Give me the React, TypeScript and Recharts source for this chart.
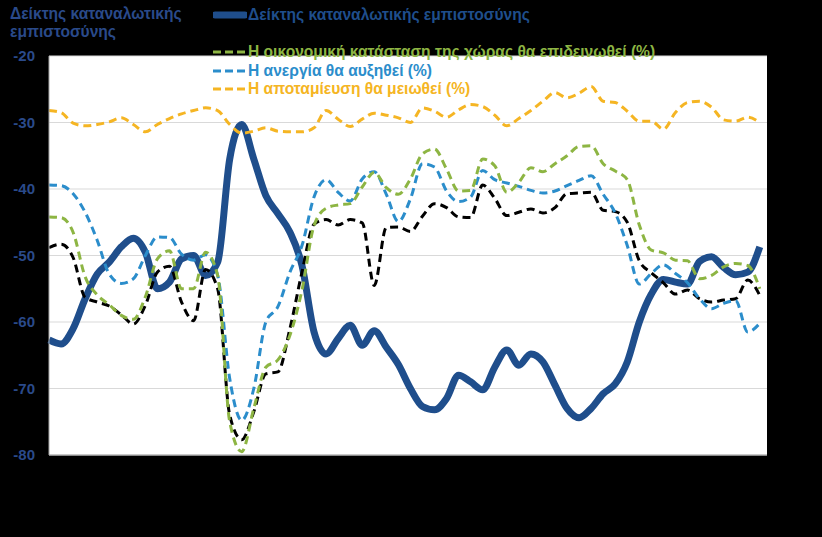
import React from 'react';
import { LineChart, Line, XAxis, YAxis, CartesianGrid } from 'recharts';

// monthly readings
const confidence = [
  -62.7, -63.3, -61, -56.5, -52.8, -51, -48.7, -47.4, -49.5, -55,
  -54, -50.5, -50, -53, -51, -35.5, -30.3, -35.5, -41, -43.7,
  -46.5, -51.5, -61.5, -64.8, -62.5, -60.5, -63.5, -61.3, -63.8, -66.4,
  -70, -72.7, -73.2, -71.5, -68, -69, -70.2, -66.8, -64.2, -66.5,
  -64.8, -66, -69.5, -73, -74.4, -73, -70.8, -69.3, -66, -60,
  -55.8, -53.6, -54, -54.3, -50.9, -50.2, -51.8, -52.9, -52.5, -48.7,
];

const economy = [
  -44.2, -44.3, -46.5, -53.2, -55.9, -57.4, -59, -59.6, -56.2, -50.5,
  -49.3, -55, -55, -49.5, -53, -75, -79.5, -73, -66.8, -65.7,
  -62, -55.2, -45.5, -42.9, -42.4, -42.2, -39.7, -37.5, -39.8, -40.8,
  -38.5, -34.7, -34, -37, -40.3, -40.2, -35.5, -36.5, -40.5, -39,
  -36.8, -37.4, -36.2, -35, -33.6, -33.5, -36.2, -37.3, -38.6, -45.4,
  -49.2, -49.6, -50.7, -50.8, -53.5, -53, -51.7, -51.2, -51.5, -55,
];

const unemployment = [
  -39.4, -39.5, -40.7, -43.5, -47.7, -52.8, -54.2, -53.5, -50, -47.2,
  -47.3, -49.8, -50.7, -49.9, -53, -68.5, -74.8, -70, -60, -57.7,
  -52.5, -48.5, -41.2, -38.6, -40.5, -41.8, -38.5, -37.4, -40.8, -44.9,
  -41.5, -36.2, -36.7, -40.3, -41.9, -41.2, -37.2, -38.6, -39.1, -39.6,
  -40.2, -40.6, -40.3, -39.5, -38.7, -38, -40.8, -43.6, -48.5, -54.3,
  -52.7, -51.4, -52.7, -54.1, -56.5, -58, -57.2, -56.8, -61.5, -60.2,
];

const savings = [
  -28.2, -28.5, -30.1, -30.5, -30.3, -29.9, -29.3, -30.3, -31.4, -30.3,
  -29.4, -28.7, -28.2, -27.8, -28.2, -30.3, -31.6, -31.3, -30.8, -31.3,
  -31.4, -31.4, -30.8, -28.2, -29.5, -30.6, -29.5, -28.6, -28.9, -29.3,
  -30, -27.8, -28.3, -29.2, -28.1, -27.3, -27.6, -28.9, -30.5, -29.4,
  -28.2, -26.8, -25.5, -26.3, -25.6, -24.6, -26.8, -27, -28.3, -29.8,
  -29.8, -31, -28.5, -27, -26.8, -27.7, -29.6, -29.8, -29.2, -30,
];

// unlabelled black series
const household = [
  -48.8, -48.3, -50.3, -56.3, -57, -57.6, -58.9, -60.3, -57.5, -52.5,
  -51.6, -57, -59.8, -52.1, -55, -74, -77.7, -73.5, -67.8, -67.5,
  -61, -52.5, -45.3, -44.6, -45.4, -44.6, -45.1, -54.5, -45.8, -45.7,
  -46.4, -44.1, -42.2, -42.8, -44.2, -44.3, -39.4, -41.4, -44, -43.5,
  -43, -43.6, -42.8, -40.7, -40.6, -40.5, -43.2, -43.4, -45, -50.8,
  -52.6, -54.1, -55.8, -55.2, -56.5, -57, -56.7, -56.5, -53.7, -56,
];

const yTicks = [-80, -70, -60, -50, -40, -30, -20];

const seriesNames = {
  confidence: 'Δείκτης καταναλωτικής εμπιστοσύνης',
  economy: 'Η οικονομική κατάσταση της χώρας θα επιδεινωθεί (%)',
  unemployment: 'Η ανεργία θα αυξηθεί (%)',
  savings: 'Η αποταμίευση θα μειωθεί (%)',
};

const data = confidence.map((v, i) => ({
  i,
  confidence: v,
  economy: economy[i],
  unemployment: unemployment[i],
  savings: savings[i],
  household: household[i],
}));

const NAVY = '#1F4E8C';
const GREEN = '#8DB543';
const BLUE = '#2B8DCB';
const ORANGE = '#F5B523';
const LABEL = '#2A4A8A';

const font = '"Liberation Sans", Arial, sans-serif';

const LegendRow = ({ top, color, text, thick }: any) => (
  <div style={{ position: 'absolute', left: 213, top, display: 'flex', alignItems: 'center', height: 18 }}>
    <svg width={34} height={10} style={{ marginRight: 1 }}>
      {thick ? (
        <line x1={2} y1={5} x2={32} y2={5} stroke={color} strokeWidth={7} strokeLinecap="round" />
      ) : (
        <line x1={0} y1={5} x2={34} y2={5} stroke={color} strokeWidth={3} strokeDasharray="8 4" />
      )}
    </svg>
    <span style={{ color: thick ? NAVY : color, fontSize: 15.6, fontWeight: 'bold', whiteSpace: 'nowrap' }}>
      {text}
    </span>
  </div>
);

export default function App() {
  return (
    <div style={{ position: 'absolute', left: 0, top: 0, width: 822, height: 537, background: '#000', fontFamily: font, overflow: 'hidden' }}>
      <LineChart width={822} height={537} data={data} margin={{ top: 56, right: 55, bottom: 81, left: 0 }}>
        <CartesianGrid vertical={false} stroke="#D9D9D9" fill="#FFFFFF" />
        <XAxis
          type="number"
          dataKey="i"
          domain={[0, 59.6]}
          tick={false}
          tickLine={false}
          height={1}
          axisLine={{ stroke: '#A6A6A6' }}
        />
        <YAxis
          domain={[-80, -20]}
          ticks={yTicks}
          interval={0}
          width={49}
          tickLine={false}
          tickMargin={8}
          axisLine={{ stroke: '#A6A6A6' }}
          tick={{ fill: LABEL, fontSize: 15, fontWeight: 'bold', fontFamily: font }}
        />
        <Line type="monotone" dataKey="confidence" stroke={NAVY} strokeWidth={7} dot={false} isAnimationActive={false} />
        <Line type="monotone" dataKey="household" stroke="#000" strokeWidth={3} strokeDasharray="8 5" dot={false} isAnimationActive={false} />
        <Line type="monotone" dataKey="unemployment" stroke={BLUE} strokeWidth={3} strokeDasharray="8 5" dot={false} isAnimationActive={false} />
        <Line type="monotone" dataKey="economy" stroke={GREEN} strokeWidth={3} strokeDasharray="8 5" dot={false} isAnimationActive={false} />
        <Line type="monotone" dataKey="savings" stroke={ORANGE} strokeWidth={3} strokeDasharray="8 5" dot={false} isAnimationActive={false} />
      </LineChart>

      <div style={{ position: 'absolute', left: 10, top: 5, color: LABEL, fontSize: 15.6, fontWeight: 'bold', lineHeight: '18px' }}>
        Δείκτης καταναλωτικής
        <br />
        εμπιστοσύνης
      </div>

      <LegendRow top={6} color={NAVY} text={seriesNames.confidence} thick />
      <LegendRow top={43} color={GREEN} text={seriesNames.economy} />
      <LegendRow top={62} color={BLUE} text={seriesNames.unemployment} />
      <LegendRow top={80} color={ORANGE} text={seriesNames.savings} />
    </div>
  );
}
